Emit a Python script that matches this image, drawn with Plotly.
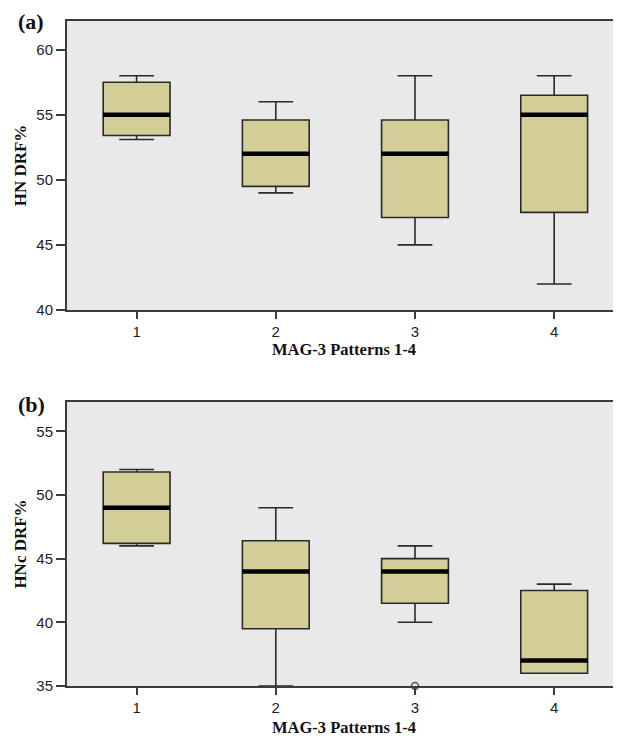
import plotly.graph_objects as go

categories = [1, 2, 3, 4]

# Panel (a): HN DRF%
a_min = [53.1, 49.0, 45.0, 42.0]
a_q1 = [53.4, 49.5, 47.1, 47.5]
a_median = [55.0, 52.0, 52.0, 55.0]
a_q3 = [57.5, 54.6, 54.6, 56.5]
a_max = [58.0, 56.0, 58.0, 58.0]

# Panel (b): HNc DRF%
b_min = [46.0, 35.0, 40.0, 36.0]
b_q1 = [46.2, 39.5, 41.5, 36.0]
b_median = [49.0, 44.0, 44.0, 37.0]
b_q3 = [51.8, 46.4, 45.0, 42.5]
b_max = [52.0, 49.0, 46.0, 43.0]
b_outlier_x = [3]
b_outlier_y = [35.0]

tick_a = [40, 45, 50, 55, 60]
tick_b = [35, 40, 45, 50, 55]

FILL = "#d3ce98"
LINE = "#2a2a2a"
BG = "#e9e9e9"
AXIS = "#3c3c3c"

fig = go.Figure()

def add_panel(xa, ya, mn, q1, med, q3, mx):
    fig.add_trace(go.Box(
        x=categories, q1=q1, median=med, q3=q3, lowerfence=mn, upperfence=mx,
        fillcolor=FILL, line=dict(color=LINE, width=1.6),
        width=0.48, whiskerwidth=0.52, boxpoints=False,
        xaxis=xa, yaxis=ya, showlegend=False, hoverinfo="skip"))
    fig.add_trace(go.Scatter(
        x=categories, y=med, mode="markers",
        marker=dict(symbol="line-ew", size=48, line=dict(color="#000000", width=4.5)),
        xaxis=xa, yaxis=ya, showlegend=False, hoverinfo="skip"))

add_panel("x", "y", a_min, a_q1, a_median, a_q3, a_max)
add_panel("x2", "y2", b_min, b_q1, b_median, b_q3, b_max)
fig.add_trace(go.Scatter(
    x=b_outlier_x, y=b_outlier_y, mode="markers", cliponaxis=False,
    marker=dict(symbol="circle-open", size=7, color="#555555", line=dict(width=1.5)),
    xaxis="x2", yaxis="y2", showlegend=False, hoverinfo="skip"))

tickfont = dict(family="Liberation Sans, Arial", size=15, color="#222222")
titlefont = dict(family="Liberation Serif, Times New Roman", size=17, color="#111111")
xtitlefont = dict(family="Liberation Serif, Times New Roman", size=16.5, color="#111111")

xcommon = dict(range=[0.5, 4.48], tickvals=categories, ticks="outside", ticklen=7,
               tickwidth=2, tickcolor=AXIS, showline=True, linecolor=AXIS, linewidth=2,
               mirror=True, showgrid=False, zeroline=False, tickfont=tickfont,
               fixedrange=True, automargin=False)
ycommon = dict(ticks="outside", ticklen=9, tickwidth=1.5, tickcolor=AXIS,
               showline=True, linecolor=AXIS, linewidth=2, mirror=True,
               showgrid=False, zeroline=False, tickfont=tickfont, fixedrange=True,
               automargin=False)

# plot area on screen: x 67..620, y 21..686 (page has 8px body margin)
pa_top = 1.0
pa_bot = (686 - 310) / 665
pb_top = (686 - 402) / 665

label_font = dict(family="Liberation Serif, Times New Roman", size=22, color="#111111")

fig.update_layout(
    width=613, height=731,
    margin=dict(l=59, r=0, t=13, b=53),
    paper_bgcolor="white", plot_bgcolor=BG,
    xaxis=dict(**xcommon, domain=[0, 1], anchor="y",
               title=dict(text="<b>MAG-3 Patterns 1-4</b>", font=xtitlefont, standoff=3)),
    yaxis=dict(**ycommon, domain=[pa_bot, pa_top], range=[40, 62.2], tickvals=tick_a,
               anchor="x", title=dict(text="<b>HN DRF%</b>", font=titlefont, standoff=5)),
    xaxis2=dict(**xcommon, domain=[0, 1], anchor="y2",
                title=dict(text="<b>MAG-3 Patterns 1-4</b>", font=xtitlefont, standoff=6)),
    yaxis2=dict(**ycommon, domain=[0, pb_top], range=[35, 57.3], tickvals=tick_b,
                anchor="x2", title=dict(text="<b>HNc DRF%</b>", font=titlefont, standoff=5)),
    annotations=[
        dict(text="<b>(a)</b>", x=(16 - 67) / 554, y=(686 - 22) / 665, xref="paper", yref="paper",
             xanchor="left", yanchor="middle", showarrow=False, font=label_font),
        dict(text="<b>(b)</b>", x=(16 - 67) / 554, y=(686 - 404) / 665, xref="paper", yref="paper",
             xanchor="left", yanchor="middle", showarrow=False, font=label_font),
    ],
)

fig.write_html("out.html")
